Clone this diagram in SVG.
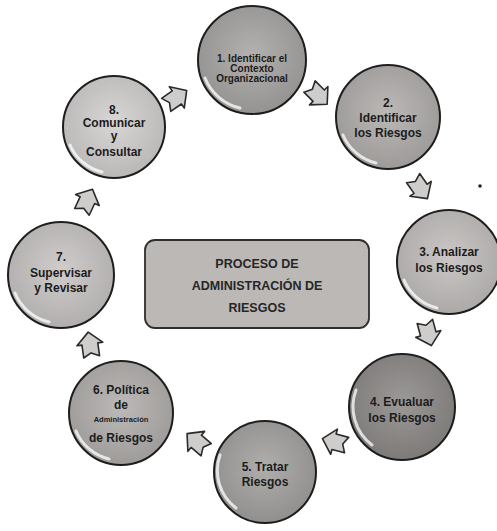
<svg xmlns="http://www.w3.org/2000/svg" xmlns:xlink="http://www.w3.org/1999/xlink" width="497" height="531" viewBox="0 0 497 531">
<style>
.c{stroke:#1e1e1e;stroke-width:2}
.hl{fill:none;stroke:#fff;stroke-opacity:.75;stroke-width:3;stroke-linecap:round}
.t{font-family:"Liberation Sans",Arial,sans-serif;font-weight:bold;fill:#1c1c1c;text-anchor:middle}
.r{font-family:"Liberation Sans",Arial,sans-serif;font-weight:bold;fill:#262626;text-anchor:middle;font-size:12.5px}
.a{fill:#cfcdcb;stroke:#2a2a2a;stroke-width:1.6;stroke-linejoin:round}
</style>
<defs>
<radialGradient id="g" cx="50%" cy="45%" r="55%">
<stop offset="0" stop-color="#fff" stop-opacity="0.12"/>
<stop offset="1" stop-color="#000" stop-opacity="0.12"/>
</radialGradient>
<path id="arr" d="M-12,-8 L1,-8 L1,-13 L13,0 L1,13 L1,8 L-12,8 L-8,0 Z"/>
</defs>
<rect width="497" height="531" fill="#fff"/>

<g id="connectors">
<use xlink:href="#arr" class="a" transform="translate(318,95) rotate(45)"/>
<use xlink:href="#arr" class="a" transform="translate(420,188) rotate(55)"/>
<use xlink:href="#arr" class="a" transform="translate(428,333) rotate(75)"/>
<use xlink:href="#arr" class="a" transform="translate(335,442) rotate(195)"/>
<use xlink:href="#arr" class="a" transform="translate(197,442) rotate(220)"/>
<use xlink:href="#arr" class="a" transform="translate(90,345) rotate(262)"/>
<use xlink:href="#arr" class="a" transform="translate(87,201) rotate(295)"/>
<use xlink:href="#arr" class="a" transform="translate(176,98) rotate(325)"/>
</g>

<g id="center">
<rect x="145" y="240" width="224" height="88" rx="10" fill="#bbb8b6" stroke="#2e2e2e" stroke-width="1.8"/>
<text class="r" x="257" y="268">PROCESO DE</text>
<text class="r" x="257" y="290">ADMINISTRACIÓN DE</text>
<text class="r" x="257" y="312">RIESGOS</text>
</g>

<g id="n1">
<circle class="c" cx="252" cy="60" r="54" fill="#a9a7a5"/>
<circle cx="252" cy="60" r="54" fill="url(#g)"/>
<path class="hl" d="M205,78 A50,50 0 0 0 240,108"/>
<text class="t" font-size="10" x="252" y="62">1. Identificar el</text>
<text class="t" font-size="10" x="252" y="72">Contexto</text>
<text class="t" font-size="10" x="252" y="82">Organizacional</text>
</g>

<g id="n2">
<circle class="c" cx="388" cy="117" r="52" fill="#b2afad"/>
<circle cx="388" cy="117" r="52" fill="url(#g)"/>
<path class="hl" d="M343,135 A48,48 0 0 0 376,163"/>
<text class="t" font-size="12" x="388" y="107">2.</text>
<text class="t" font-size="12" x="388" y="122">Identificar</text>
<text class="t" font-size="12" x="388" y="137">los Riesgos</text>
</g>

<g id="n3">
<circle class="c" cx="449" cy="262" r="52" fill="#c3c0be"/>
<circle cx="449" cy="262" r="52" fill="url(#g)"/>
<path class="hl" d="M404,280 A48,48 0 0 0 437,308"/>
<text class="t" font-size="12" x="449" y="256">3. Analizar</text>
<text class="t" font-size="12" x="449" y="272">los Riesgos</text>
</g>

<g id="n4">
<circle class="c" cx="402" cy="407" r="53" fill="#8e8b89"/>
<circle cx="402" cy="407" r="53" fill="url(#g)"/>
<path class="hl" d="M356,390 A48,48 0 0 0 372,445"/>
<text class="t" font-size="12" x="402" y="406">4. Evualuar</text>
<text class="t" font-size="12" x="402" y="422">los Riesgos</text>
</g>

<g id="n5">
<circle class="c" cx="265" cy="472" r="51" fill="#a5a3a1"/>
<circle cx="265" cy="472" r="51" fill="url(#g)"/>
<path class="hl" d="M220,455 A47,47 0 0 0 236,508"/>
<text class="t" font-size="12" x="265" y="471">5. Tratar</text>
<text class="t" font-size="12" x="265" y="486">Riesgos</text>
</g>

<g id="n6">
<circle class="c" cx="121" cy="413" r="52" fill="#b3b0ae"/>
<circle cx="121" cy="413" r="52" fill="url(#g)"/>
<path class="hl" d="M76,431 A48,48 0 0 0 109,459"/>
<text class="t" font-size="12" x="121" y="394">6. Política</text>
<text class="t" font-size="12" x="121" y="409">de</text>
<text class="t" font-size="7.5" x="121" y="422">Administración</text>
<text class="t" font-size="12" x="121" y="442">de Riesgos</text>
</g>

<g id="n7">
<circle class="c" cx="61" cy="275" r="53" fill="#c9c6c5"/>
<circle cx="61" cy="275" r="53" fill="url(#g)"/>
<path class="hl" d="M15,293 A49,49 0 0 0 49,322"/>
<text class="t" font-size="12" x="61" y="261">7.</text>
<text class="t" font-size="12" x="61" y="277">Supervisar</text>
<text class="t" font-size="12" x="61" y="292">y Revisar</text>
</g>

<g id="n8">
<circle class="c" cx="114" cy="127" r="51" fill="#d3d1d0"/>
<circle cx="114" cy="127" r="51" fill="url(#g)"/>
<path class="hl" d="M70,145 A47,47 0 0 0 102,172"/>
<text class="t" font-size="12" x="114" y="114">8.</text>
<text class="t" font-size="12" x="114" y="127">Comunicar</text>
<text class="t" font-size="12" x="114" y="140">y</text>
<text class="t" font-size="12" x="114" y="156">Consultar</text>
</g>

<circle cx="480" cy="186" r="1.8" fill="#222"/>
</svg>
